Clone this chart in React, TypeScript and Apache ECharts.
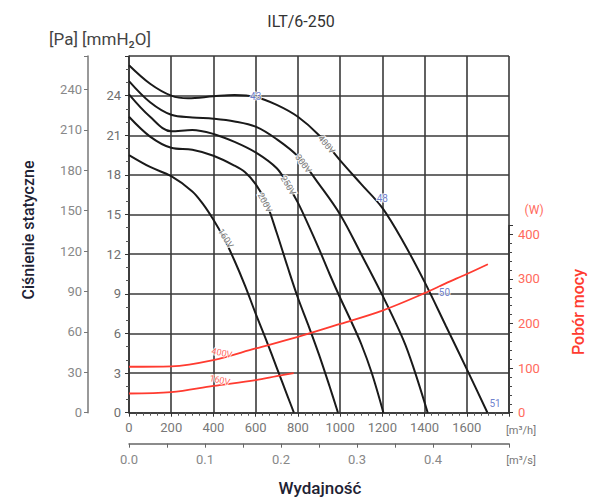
import React, { useEffect, useRef } from 'react';
import * as echarts from 'echarts';

// Fan curves: [flow m3/h, static pressure mmH2O]
const curve400V = [[0, 26.3], [100, 24.9], [200, 24.0], [280, 23.8], [400, 23.95], [500, 24.05], [600, 23.9], [700, 23.3], [800, 22.4], [900, 21.0], [1000, 19.1], [1100, 17.3], [1200, 15.5], [1300, 12.9], [1400, 9.9], [1500, 6.6], [1600, 3.3], [1698, 0]];
const curve300V = [[0, 25.1], [100, 23.5], [200, 22.55], [300, 22.35], [400, 22.25], [500, 22.05], [600, 21.65], [700, 20.7], [800, 19.4], [900, 17.3], [1000, 15.0], [1100, 12.0], [1200, 8.9], [1300, 5.5], [1350, 3.3], [1415, 0]];
const curve250V = [[0, 24.1], [100, 22.4], [200, 21.3], [300, 21.4], [400, 21.1], [500, 20.5], [600, 19.7], [700, 18.5], [750, 17.3], [800, 15.9], [850, 14.2], [900, 12.4], [950, 10.5], [1000, 8.7], [1050, 7.0], [1100, 5.2], [1150, 3.0], [1205, 0]];
const curve200V = [[0, 22.4], [100, 20.9], [200, 20.05], [300, 19.9], [400, 19.45], [500, 18.7], [550, 18.2], [600, 17.3], [650, 15.9], [700, 13.6], [750, 11.1], [800, 8.7], [850, 6.6], [900, 4.4], [950, 2.0], [990, 0]];
const curve160V = [[0, 19.5], [100, 18.6], [200, 17.9], [300, 16.75], [350, 15.8], [400, 14.6], [450, 13.2], [500, 11.5], [550, 9.6], [600, 7.5], [650, 5.5], [700, 3.4], [750, 1.3], [781, 0]];

// Power consumption: [flow m3/h, W]
const power400V = [[0, 103], [200, 104], [400, 118], [600, 144], [800, 170], [1000, 199], [1200, 229], [1400, 268], [1500, 290], [1600, 311], [1700, 333]];
const power160V = [[0, 43], [200, 46], [400, 60], [600, 73], [700, 82], [780, 89]];

// Curve name labels placed on curves
const curveLabelNames = ['400V', '300V', '250V', '200V', '160V'];
const curveLabelFlow = [936, 826, 754, 644, 458];
const curveLabelPress = [20.3, 18.85, 17.2, 15.9, 13.2];

const powerLabelNames = ['400V', '160V'];
const powerLabelFlow = [440, 430];
const powerLabelWatt = [134, 73];

// Noise levels dB(A) on the 400V curve
const noiseNames = ['43', '48', '50', '51'];
const noiseFlow = [600, 1200, 1420, 1698];
const noisePress = [23.9, 15.5, 9.1, 0];

const flowUnitMax = 1800;
const pressMax = 27;
const paMax = 27 * 9.81;
const wattMax = 420;

export default function App() {
  const ref = useRef<HTMLDivElement>(null);
  useEffect(() => {
    const chart = echarts.init(ref.current!, null, { renderer: 'svg' });
    const font = 'Roboto, "DejaVu Sans", sans-serif';
    const gridColor = '#3a3a3a';
    const curveStyle = { color: '#1a1a1a', width: 2 };
    const red = '#ff3b30';
    const redText = '#ff6a5c';
    const curveRot = [-50, -53, -60, -62, -58];
    const powerRot = [-12, -12];
    const blackSeries = [curve400V, curve300V, curve250V, curve200V, curve160V].map((d, i) => ({
      type: 'line', name: curveLabelNames[i], xAxisIndex: 0, yAxisIndex: 0, data: d,
      smooth: 0.35, symbol: 'none', lineStyle: curveStyle, z: 3, silent: true,
    }));
    const redSeries = [power400V, power160V].map((d, i) => ({
      type: 'line', name: 'P' + powerLabelNames[i], xAxisIndex: 2, yAxisIndex: 2, data: d,
      smooth: 0.35, symbol: 'none', lineStyle: { color: red, width: 1.8 }, z: 3, silent: true,
    }));
    const option: any = {
      animation: false,
      textStyle: { fontFamily: font },
      grid: [
        { left: 129, top: 56, width: 380, height: 356.7 },
        { left: 129, top: 412.7 - 187.3, width: 380, height: 187.3 },
      ],
      xAxis: [
        {
          type: 'value', gridIndex: 0, min: 0, max: flowUnitMax, interval: 200, position: 'bottom',
          axisLine: { show: true, onZero: false, lineStyle: { color: '#333', width: 1.5 } },
          axisTick: { show: true, length: 4, lineStyle: { color: '#333' } },
          minorTick: { show: true, splitNumber: 6, length: 3, lineStyle: { color: '#555' } },
          splitLine: { show: true, lineStyle: { color: gridColor, width: 1.6 } },
          axisLabel: { color: '#777', fontSize: 13, margin: 8, formatter: (v: number) => (v >= 1800 ? '' : String(v)) },
        },
        {
          type: 'value', gridIndex: 0, min: 0, max: 0.5, interval: 0.05, position: 'bottom', offset: 31,
          axisLine: { show: true, onZero: false, lineStyle: { color: '#666', width: 1.5 } },
          axisTick: { show: true, length: 4, lineStyle: { color: '#666' } },
          splitLine: { show: false },
          axisLabel: {
            color: '#888', fontSize: 13, margin: 9,
            formatter: (v: number) => { const k = Math.round(v * 100); return k % 10 === 0 && k < 50 ? (k / 100).toFixed(1) : ''; },
          },
        },
        { type: 'value', gridIndex: 1, min: 0, max: flowUnitMax, show: false },
      ],
      yAxis: [
        {
          type: 'value', gridIndex: 0, min: 0, max: pressMax, interval: 3, position: 'left',
          axisLine: { show: true, onZero: false, lineStyle: { color: '#333', width: 1.5 } },
          axisTick: { show: true, length: 4, lineStyle: { color: '#333' } },
          minorTick: { show: true, splitNumber: 3, length: 3, lineStyle: { color: '#555' } },
          splitLine: { show: true, lineStyle: { color: gridColor, width: 1.6 } },
          axisLabel: { color: '#6f6f6f', fontSize: 13, margin: 8, formatter: (v: number) => (v >= 27 ? '' : String(v)) },
        },
        {
          type: 'value', gridIndex: 0, min: 0, max: paMax, interval: 30, position: 'left', offset: 41,
          axisLine: { show: true, onZero: false, lineStyle: { color: '#777', width: 1.5 } },
          axisTick: { show: true, length: 4, lineStyle: { color: '#777' } },
          splitLine: { show: false },
          axisLabel: { color: '#888', fontSize: 13, margin: 6, formatter: (v: number) => (v > 250 ? '' : String(v)) },
        },
        {
          type: 'value', gridIndex: 1, min: 0, max: wattMax, interval: 100, position: 'right',
          axisLine: { show: true, onZero: false, lineStyle: { color: '#333', width: 1.5 } },
          axisTick: { show: true, length: 4, lineStyle: { color: '#333' } },
          minorTick: { show: true, splitNumber: 5, length: 3, lineStyle: { color: '#444' } },
          splitLine: { show: false },
          axisLabel: { color: redText, fontSize: 13, margin: 9, formatter: (v: number) => (v > 400 ? '' : String(v)) },
        },
      ],
      series: [
        ...blackSeries,
        ...redSeries,
        {
          type: 'scatter', xAxisIndex: 0, yAxisIndex: 0, symbolSize: 0, z: 5, silent: true,
          data: curveLabelNames.map((n, i) => ({
            value: [curveLabelFlow[i], curveLabelPress[i]],
            label: { show: true, position: 'inside', formatter: n, rotate: curveRot[i], color: '#555', fontSize: 9, textBorderColor: '#fff', textBorderWidth: 2.5 },
          })),
        },
        {
          type: 'scatter', xAxisIndex: 2, yAxisIndex: 2, symbolSize: 0, z: 5, silent: true,
          data: powerLabelNames.map((n, i) => ({
            value: [powerLabelFlow[i], powerLabelWatt[i]],
            label: { show: true, position: 'inside', formatter: n, rotate: powerRot[i], color: red, fontSize: 9, textBorderColor: '#fff', textBorderWidth: 2 },
          })),
        },
        {
          type: 'scatter', xAxisIndex: 0, yAxisIndex: 0, symbolSize: 0, z: 5, silent: true,
          data: noiseNames.map((n, i) => ({
            value: [noiseFlow[i], noisePress[i]],
            label: {
              show: true, formatter: n, color: '#4a5fc1', fontSize: 10, textBorderColor: '#fff', textBorderWidth: 2,
              position: i === 0 ? 'inside' : i === 1 ? 'top' : 'right',
              distance: i === 1 ? 4 : i === 3 ? 2 : 6,
              offset: i === 3 ? [0, -9] : i === 2 ? [4, 0] : [0, 0],
            },
          })),
        },
      ],
      graphic: [
        { type: 'text', x: 301, y: 21, style: { text: 'ILT/6-250', fontSize: 16, fill: '#333', align: 'center', verticalAlign: 'middle', fontFamily: font } },
        { type: 'text', x: 49, y: 39, style: { text: '[Pa] [mmH₂O]', fontSize: 17, fill: '#444', align: 'left', verticalAlign: 'middle', fontFamily: font } },
        { type: 'text', x: 28, y: 230, rotation: Math.PI / 2, style: { text: 'Ciśnienie statyczne', fontSize: 16, fontWeight: 500, fill: '#1e2233', align: 'center', verticalAlign: 'middle', fontFamily: font } },
        { type: 'text', x: 578, y: 312, rotation: Math.PI / 2, style: { text: 'Pobór mocy', fontSize: 16, fontWeight: 500, fill: red, align: 'center', verticalAlign: 'middle', fontFamily: font } },
        { type: 'text', x: 534, y: 210, style: { text: '(W)', fontSize: 12, fill: redText, align: 'center', verticalAlign: 'middle', fontFamily: font } },
        { type: 'text', x: 521, y: 430, style: { text: '[m³/h]', fontSize: 11, fill: '#777', align: 'center', verticalAlign: 'middle', fontFamily: font } },
        { type: 'text', x: 521, y: 460, style: { text: '[m³/s]', fontSize: 11, fill: '#777', align: 'center', verticalAlign: 'middle', fontFamily: font } },
        { type: 'text', x: 320, y: 488, style: { text: 'Wydajność', fontSize: 17, fontWeight: 500, fill: '#1e2233', align: 'center', verticalAlign: 'middle', fontFamily: font } },
      ],
    };
    chart.setOption(option);
    return () => chart.dispose();
  }, []);
  return <div ref={ref} style={{ position: 'fixed', left: 0, top: 0, width: 603, height: 501, background: '#fff' }} />;
}
